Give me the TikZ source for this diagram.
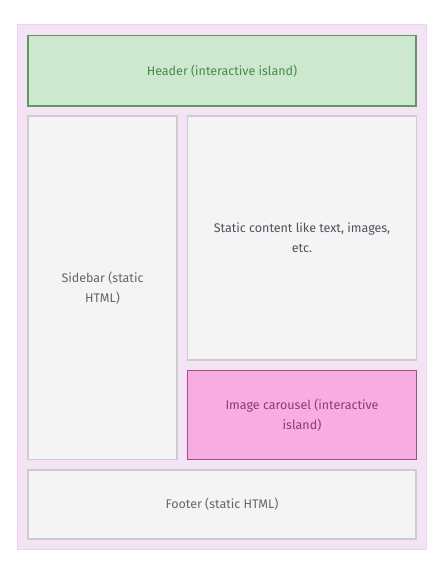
\documentclass[tikz,border=0pt]{standalone}
\usepackage{fontspec}
\setmainfont{Fira Sans}
\definecolor{outerfill}{HTML}{F3E3F5}
\definecolor{outerdraw}{HTML}{EBD3F0}
\definecolor{hfill}{HTML}{CDE8CF}
\definecolor{hdraw}{HTML}{5C9A60}
\definecolor{htext}{HTML}{468A4B}
\definecolor{gfill}{HTML}{F4F4F4}
\definecolor{gdraw}{HTML}{CCCCCC}
\definecolor{gtext}{HTML}{50505E}
\definecolor{stext}{HTML}{666666}
\definecolor{cfill}{HTML}{F8ADE2}
\definecolor{cdraw}{HTML}{A4507F}
\definecolor{ctext}{HTML}{933872}
\tikzset{
  panel/.style={rectangle, inner sep=0pt, outer sep=0pt, align=center, font=\fontsize{12.5}{20}\selectfont},
  gbox/.style={panel, fill=gfill, draw=gdraw, line width=1.2pt, text=gtext},
  hbox/.style={panel, fill=hfill, draw=hdraw, line width=1.4pt, text=htext},
  cbox/.style={panel, fill=cfill, draw=cdraw, line width=1.4pt, text=ctext},
  obox/.style={rectangle, inner sep=0pt, outer sep=0pt, fill=outerfill, draw=outerdraw, line width=1pt}
}
\begin{document}
\begin{tikzpicture}[x=1pt,y=-1pt]
\useasboundingbox (0,0) rectangle (441,566);
\node[obox, minimum width=409pt, minimum height=525pt] (outer) at (222,286.5) {};
\node[hbox, minimum width=388pt, minimum height=70.5pt] (header) at (222,70.75) {Header (interactive island)};
\node[gbox, text=stext, minimum width=149pt, minimum height=343.5pt] (sidebar) at (102.5,287.75) {Sidebar (static\\HTML)};
\node[gbox, minimum width=228.5pt, minimum height=244pt] (content) at (302,238) {Static content like text, images,\\etc.};
\node[cbox, minimum width=228.5pt, minimum height=89pt] (carousel) at (302,414.75) {Image carousel (interactive\\island)};
\node[gbox, text=stext, minimum width=388pt, minimum height=69pt] (footer) at (222,504.5) {Footer (static HTML)};
\end{tikzpicture}
\end{document}
